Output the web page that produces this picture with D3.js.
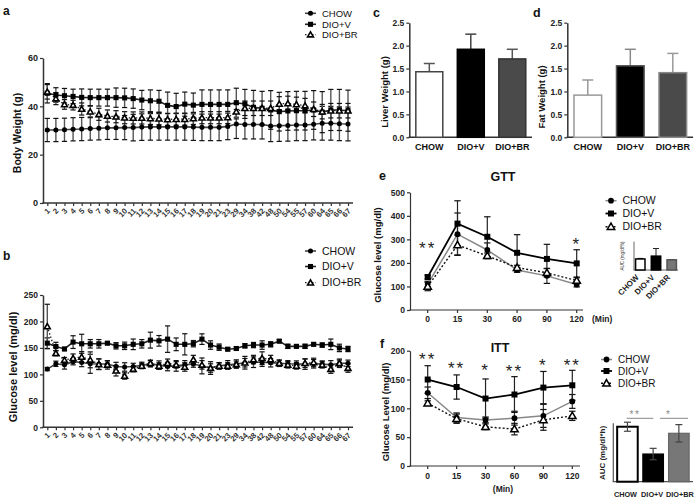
<!DOCTYPE html>
<html><head><meta charset="utf-8">
<script src="https://cdn.jsdelivr.net/npm/d3@7"></script>
<style>body{margin:0;background:#fff} svg{display:block}</style>
</head><body><svg id="c" width="700" height="499"></svg>
<script>
// ---------------- DATA ----------------
const weeks = ["1","2","3","4","5","6","7","8","9","10","11","12","13","14","15","16","17","18","19","20","21","23","29","34","38","42","48","50","54","55","57","60","64","65","66","67"];
const seriesNames = ["CHOW","DIO+V","DIO+BR"];
// a: body weight (g)
const bwChow = [30.2,30.2,30.3,30.5,30.6,30.8,30.9,31.1,31.1,31.2,31.2,31.4,31.5,31.5,31.5,31.5,31.5,31.4,31.3,31.3,31.3,31.7,32.7,32.5,32.5,32.5,31.9,32.0,32.1,32.3,32.3,32.6,33.0,33.0,32.8,32.7];
const bwChowErr = [4.8,4.8,4.8,4.8,4.8,4.8,4.8,4.8,4.8,5,5.5,5.5,5.5,5.5,5.5,5.5,5.5,5.5,5.5,5.5,5.5,5.5,6,6,6,6,6.5,6.5,6.5,6.5,6.5,6.5,7,7,7,7];
const bwDioV = [45.4,44.7,44.4,44.1,43.7,43.6,43.6,43.6,43.6,43.5,43.2,42.6,42.3,42.1,40.4,39.9,40.9,40.5,40.8,40.8,40.8,40.8,41.5,41.0,39.6,39.2,38.5,37.8,38.1,38.2,38.2,38.5,37.6,38.5,38.5,38.2];
const bwDioVErr = [4,3,3,3,3.5,3.5,3.5,3.5,4,4,4,4,4.5,4.5,5.5,5.5,5,5,6,6,6,6,6,6,7,7,8,8,8,8,8,8,8.5,8.5,8.5,8.5];
const bwDioBR = [46.0,43.2,40.8,40.5,38.9,37.8,36.7,36.0,35.7,35.3,35.2,35.2,35.0,34.9,34.6,34.7,34.7,35.0,35.3,35.3,35.3,35.4,37.8,39.2,39.2,39.2,39.2,41.0,41.2,40.8,40.3,38.8,37.8,38.2,38.2,38.2];
const bwDioBRErr = [3,2.5,2,2,2.5,2.5,2.5,2.5,2.5,2.5,2.5,2.5,2.5,2.5,2.5,2.5,2.5,2.5,2.5,2.5,2.5,2.5,3,3,3,3,3,3,3,3,3,3,3,3,3,3];
// b: glucose level (mg/dl)
const glChow = [110,120,118,124,122.6,120,119.5,119.5,114.8,114,115,117,120,117.5,114.8,116,118,119.5,116,112,116,118,119.5,122,123,123,122,121,120,119.5,119.5,120,119.5,118,121,121];
const glChowErr = [3,5,8,6,8,18,10,6,8,8,6,6,6,8,8,10,8,6,15,12,6,8,8,12,10,8,8,6,6,6,10,8,6,8,6,6];
const glDioV = [159,152.6,148,161,157.8,157.8,157.8,159,154,154,156.8,157.8,164.7,163.4,166.6,156.8,156.8,158,166.6,155.4,151.4,147.6,148.9,154,155.4,155.4,156.8,162.8,153,153,153,156.8,155.4,156.8,150,148];
const glDioVErr = [10,8,3,12,18,8,8,3,6,7,10,8,15,10,25,12,20,6,10,8,6,3,3,4,5,8,5,3,4,3,4,3,4,10,7,5];
const glDioBR = [190.5,140,127,130.6,133,127.5,119,118,107,97,110,116,121,116,121,118,114,128,118,112,116,116,119,122,128,130.6,128,121,118,116,121,122.6,118,110,121,112];
const glDioBRErr = [42,5,5,8,10,15,10,8,10,6,5,5,6,6,8,6,8,8,8,8,6,6,6,8,8,12,8,6,6,6,8,8,6,8,8,8];
// c, d: organ weights (g)
const liverWeight = [1.43,1.92,1.71];
const liverErr = [0.18,0.33,0.21];
const fatWeight = [0.92,1.56,1.41];
const fatErr = [0.33,0.36,0.42];
// e: GTT
const timePoints = ["0","15","30","60","90","120"];
const gttChow = [110,322,255,170,145,108];
const gttChowErr = [12,90,30,10,32,10];
const gttDioV = [140,367,311,243,217,198];
const gttDioVErr = [8,97,85,77,62,58];
const gttDioBR = [100,276,230,180,158,125];
const gttDioBRErr = [18,42,12,10,18,12];
const gttAuc = [39,49,36];
const gttAucErr = [2,27,1];
const gttSig = ["**","","","","","*"];
// f: ITT
const ittChow = [127,84,80,83,87,112];
const ittChowErr = [10,8,5,12,20,12];
const ittDioV = [150,137,117,124,136,140];
const ittDioVErr = [24,21,34,31,28,26];
const ittDioBR = [109,82,68,64,80,87];
const ittDioBRErr = [4,8,5,10,18,8];
const ittAuc = [75.3,37.9,66.3];
const ittAucErr = [6.2,7.8,11.9];
const ittSig = ["**","**","*","**","*","**"];

// ---------------- DRAWING ----------------
const FONT = "Arial, 'Liberation Sans', Helvetica, sans-serif";
const svg = d3.select("#c");

function txt(g, x, y, s, size, opt={}) {
  const t = g.append("text").attr("x",x).attr("y",y).text(s)
    .attr("font-family",FONT).attr("font-size",size)
    .attr("font-weight",opt.bold?"bold":"normal")
    .attr("fill",opt.fill||"#111")
    .attr("text-anchor",opt.anchor||"start");
  if (opt.ls!==undefined) t.attr("letter-spacing",opt.ls);
  if (opt.rotate!==undefined) t.attr("transform",`rotate(${opt.rotate},${x},${y})`);
  return t;
}
function mark(g, type, cx, cy, sizes) {
  const t = type==="circle"?d3.symbolCircle: type==="square"?d3.symbolSquare:d3.symbolTriangle;
  const p = g.append("path").attr("d", d3.symbol().type(t).size(sizes[type])())
    .attr("transform",`translate(${cx},${cy+(type==="tri"?0.6:0)})`);
  if (type==="tri") p.attr("fill","#fff").attr("stroke","#000").attr("stroke-width",sizes.triW||1.4);
  else p.attr("fill","#000");
}
function yAxis(g, y, x0, ticks, fmt, fs, sw) {
  const a = g.append("g").attr("transform",`translate(${x0},0)`)
    .call(d3.axisLeft(y).tickValues(ticks).tickSize(3).tickSizeOuter(0).tickPadding(2).tickFormat(fmt));
  a.select(".domain").attr("stroke","#333").attr("stroke-width",sw||1.5);
  a.selectAll(".tick line").attr("stroke","#333").attr("stroke-width",1.2);
  a.selectAll("text").attr("font-size",fs).attr("font-weight","bold").attr("fill","#222").attr("font-family",FONT);
  return a;
}
function xAxisLine(g, x1, x2, y0, sw) {
  g.append("line").attr("x1",x1).attr("x2",x2).attr("y1",y0).attr("y2",y0).attr("stroke","#333").attr("stroke-width",sw||1.5);
}
function series(g, x, y, cats, vals, errs, st) {
  cats.forEach((c,i)=>{
    const cx=x(c), lo=y(vals[i]-errs[i]), hi=y(vals[i]+errs[i]);
    g.append("line").attr("x1",cx).attr("x2",cx).attr("y1",lo).attr("y2",hi).attr("stroke",st.err).attr("stroke-width",st.errW);
    [lo,hi].forEach(yy=>g.append("line").attr("x1",cx-st.cap).attr("x2",cx+st.cap).attr("y1",yy).attr("y2",yy).attr("stroke",st.capC||"#111").attr("stroke-width",1.2));
  });
  g.append("path").datum(vals)
    .attr("d", d3.line().x((d,i)=>x(cats[i])).y(d=>y(d)))
    .attr("fill","none").attr("stroke",st.line).attr("stroke-width",st.lineW)
    .attr("stroke-dasharray",st.dash||null);
}
function markers(g, x, y, cats, vals, type, sizes) {
  cats.forEach((c,i)=>mark(g, type, x(c), y(vals[i]), sizes));
}
function legend(g, x0, ys, fs, styles, sizes) {
  seriesNames.forEach((n,i)=>{
    const st = styles[i];
    g.append("line").attr("x1",x0).attr("x2",x0+11).attr("y1",ys[i]).attr("y2",ys[i])
      .attr("stroke",st.line).attr("stroke-width",st.lineW).attr("stroke-dasharray",st.dash||null);
    mark(g, st.type, x0+5.5, ys[i], sizes);
    txt(g, x0+17, ys[i]+fs*0.36, n, fs);
  });
}

// ---------- Panel a ----------
const A = svg.append("g");
const smallSizes = {circle:20, square:26, tri:15, triW:1.6};
const abStyles = [
  {type:"circle", line:"#444", lineW:1.6, err:"#555", errW:1.4, cap:2.6},
  {type:"square", line:"#222", lineW:1.6, err:"#555", errW:1.4, cap:2.6},
  {type:"tri", line:"#222", lineW:1.3, dash:"1.5,2", err:"#555", errW:1.4, cap:2.6}
];
const xa = d3.scalePoint().domain(weeks).range([47.3,348]);
const ya = d3.scaleLinear().domain([0,60]).range([203,58]);
yAxis(A, ya, 43, [0,20,40,60], d3.format("d"), 9);
xAxisLine(A, 42.3, 353, 203);
function weekAxis(g, x, y0) {
  const ax = g.append("g").attr("transform",`translate(0,${y0})`)
    .call(d3.axisBottom(x).tickSize(3).tickSizeOuter(0));
  ax.select(".domain").remove();
  ax.selectAll(".tick line").attr("stroke","#333").attr("stroke-width",1.2);
  ax.selectAll("text").attr("x",0).attr("y",0).attr("dy",0)
    .attr("transform","translate(2.8,8.5) rotate(-45)").attr("text-anchor","end")
    .attr("font-size",7.8).attr("font-weight","bold").attr("fill","#333").attr("font-family",FONT);
}
weekAxis(A, xa, 203);
[[bwChow,bwChowErr],[bwDioV,bwDioVErr],[bwDioBR,bwDioBRErr]].forEach((d,i)=>series(A, xa, ya, weeks, d[0], d[1], abStyles[i]));
[bwChow,bwDioV,bwDioBR].forEach((d,i)=>markers(A, xa, ya, weeks, d, abStyles[i].type, smallSizes));
txt(A, 21, 133, "Body Weight  (g)", 10.5, {bold:true, anchor:"middle", rotate:-90});
txt(A, 3, 15, "a", 12, {bold:true});
legend(A, 305, [13.3,24.3,34.6], 9.5, abStyles, smallSizes);

// ---------- Panel b ----------
const B = svg.append("g");
const yb = d3.scaleLinear().domain([0,250]).range([427.3,295]);
yAxis(B, yb, 43, [0,50,100,150,200,250], d3.format("d"), 8.5);
xAxisLine(B, 42.3, 353, 427.3);
weekAxis(B, xa, 427.3);
[[glChow,glChowErr],[glDioV,glDioVErr],[glDioBR,glDioBRErr]].forEach((d,i)=>series(B, xa, yb, weeks, d[0], d[1], abStyles[i]));
[glChow,glDioV,glDioBR].forEach((d,i)=>markers(B, xa, yb, weeks, d, abStyles[i].type, smallSizes));
txt(B, 17, 367, "Glucose level  (mg/dl)", 11, {bold:true, anchor:"middle", rotate:-90});
txt(B, 3, 260, "b", 12, {bold:true});
legend(B, 305, [251,266.5,282.7], 10.5, abStyles, smallSizes);

// ---------- Panels c, d ----------
function barPanel(g, x0, x1, vals, errs, fills, strokes, errCols, label, labelX, labelY, letter, letterX) {
  const x = d3.scaleBand().domain(seriesNames).range([x0+0.3,x1]).paddingInner(0.35).paddingOuter(0.15);
  const y = d3.scaleLinear().domain([0,2.5]).range([137.3,22.7]);
  yAxis(g, y, x0, [0,0.5,1,1.5,2,2.5], d3.format(".1f"), 8.5);
  xAxisLine(g, x0-0.7, x1, 137.3);
  seriesNames.forEach((c,i)=>{
    const bx=x(c), bw=x.bandwidth(), top=y(vals[i]), cx=bx+bw/2, et=y(vals[i]+errs[i]);
    g.append("line").attr("x1",cx).attr("x2",cx).attr("y1",top).attr("y2",et).attr("stroke",errCols[i]).attr("stroke-width",1.5);
    g.append("line").attr("x1",cx-5.5).attr("x2",cx+5.5).attr("y1",et).attr("y2",et).attr("stroke",errCols[i]).attr("stroke-width",1.5);
    g.append("rect").attr("x",bx).attr("y",top).attr("width",bw).attr("height",y(0)-top)
      .attr("fill",fills[i]).attr("stroke",strokes[i]).attr("stroke-width",1.5);
    txt(g, cx, 150, c, 9, {bold:true, anchor:"middle"});
  });
  txt(g, labelX, labelY, label, 9.5, {bold:true, anchor:"middle", rotate:-90});
  txt(g, letterX, 17, letter, 12.5, {bold:true});
}
const C = svg.append("g");
barPanel(C, 409.3, 532, liverWeight, liverErr, ["#fff","#000","#4a4a4a"], ["#444","#000","#333"], ["#555","#444","#555"], "Liver Weight  (g)", 388, 92, "c", 373);
const D = svg.append("g");
barPanel(D, 567.3, 693, fatWeight, fatErr, ["#fff","#000","#4a4a4a"], ["#999","#555","#888"], ["#999","#888","#999"], "Fat Weight  (g)", 545, 97, "d", 533);

// ---------- Panels e, f ----------
const efStyles = [
  {type:"circle", line:"#888", lineW:1.5, err:"#333", errW:1.2, cap:3.2},
  {type:"square", line:"#000", lineW:1.8, err:"#222", errW:1.2, cap:3.2},
  {type:"tri", line:"#111", lineW:1.4, dash:"2,2", err:"#333", errW:1.2, cap:3.2}
];
const bigSizes = {circle:26, square:36, tri:24, triW:1.5};
function sig(g, x, labels, ys, fs) {
  timePoints.forEach((t,i)=>{ if(labels[i]) txt(g, x(t), ys[i], labels[i], fs, {anchor:"middle", fill:"#222", ls:2}); });
}

// e
const E = svg.append("g");
const xe = d3.scalePoint().domain(timePoints).range([427.7,576.7]);
const ye = d3.scaleLinear().domain([0,500]).range([310,192.3]);
yAxis(E, ye, 410, [0,100,200,300,400,500], d3.format("d"), 8.5, 1.2);
xAxisLine(E, 409.4, 583, 310, 1.2);
timePoints.forEach(t=>{
  E.append("line").attr("x1",xe(t)).attr("x2",xe(t)).attr("y1",310).attr("y2",313).attr("stroke","#333").attr("stroke-width",1.2);
  txt(E, xe(t), 322, t, 8.5, {bold:true, anchor:"middle", fill:"#222"});
});
txt(E, 592, 322, "(Min)", 8.5, {bold:true, fill:"#222"});
[[gttChow,gttChowErr],[gttDioV,gttDioVErr],[gttDioBR,gttDioBRErr]].forEach((d,i)=>series(E, xe, ye, timePoints, d[0], d[1], efStyles[i]));
[gttChow,gttDioV,gttDioBR].forEach((d,i)=>markers(E, xe, ye, timePoints, d, efStyles[i].type, bigSizes));
sig(E, xe, gttSig, [254,0,0,0,0,250], 17);
txt(E, 503, 181, "GTT", 12.5, {bold:true, anchor:"middle"});
txt(E, 379, 180, "e", 12.5, {bold:true});
txt(E, 381, 255, "Glucose level  (mg/dl)", 9.5, {bold:true, anchor:"middle", rotate:-90});
legend(E, 605.5, [200.7,213.5,226.7], 10.5, efStyles, bigSizes);
// mini AUC
const xm = d3.scaleBand().domain(seriesNames).range([634,678]).paddingInner(0.4).paddingOuter(0.1);
const ym = d3.scaleLinear().domain([0,100]).range([270,241.7]);
E.append("line").attr("x1",634).attr("x2",634).attr("y1",241.7).attr("y2",270).attr("stroke","#666").attr("stroke-width",1);
E.append("line").attr("x1",633.5).attr("x2",678).attr("y1",270).attr("y2",270).attr("stroke","#666").attr("stroke-width",1);
const miniFill = ["#fff","#000","#777"], miniStroke = ["#000","#000","#555"];
seriesNames.forEach((c,i)=>{
  const bx=xm(c), bw=xm.bandwidth(), top=ym(gttAuc[i]), cx=bx+bw/2, et=ym(gttAuc[i]+gttAucErr[i]);
  E.append("line").attr("x1",cx).attr("x2",cx).attr("y1",top).attr("y2",et).attr("stroke","#222").attr("stroke-width",1);
  E.append("line").attr("x1",cx-3).attr("x2",cx+3).attr("y1",et).attr("y2",et).attr("stroke","#222").attr("stroke-width",1);
  E.append("rect").attr("x",bx).attr("y",top).attr("width",bw).attr("height",ym(0)-top).attr("fill",miniFill[i]).attr("stroke",miniStroke[i]).attr("stroke-width",1.5);
  txt(E, cx-1, 278, c, 8, {bold:true, anchor:"end", rotate:-45, fill:"#222"});
});
txt(E, 624, 256, "AUC (mg/dl*h)", 4.5, {anchor:"middle", rotate:-90, fill:"#333"});

// f
const F = svg.append("g");
const xf = d3.scalePoint().domain(timePoints).range([427.7,572.3]);
const yf = d3.scaleLinear().domain([0,200]).range([466,350.7]);
yAxis(F, yf, 410, [0,50,100,150,200], d3.format("d"), 8.5, 1.2);
xAxisLine(F, 409.4, 580, 466, 1.2);
timePoints.forEach(t=>{
  F.append("line").attr("x1",xf(t)).attr("x2",xf(t)).attr("y1",466).attr("y2",469).attr("stroke","#333").attr("stroke-width",1.2);
  txt(F, xf(t), 478.5, t, 8.5, {bold:true, anchor:"middle", fill:"#222"});
});
txt(F, 503, 492, "(Min)", 8.5, {bold:true, anchor:"middle", fill:"#222"});
[[ittChow,ittChowErr],[ittDioV,ittDioVErr],[ittDioBR,ittDioBRErr]].forEach((d,i)=>series(F, xf, yf, timePoints, d[0], d[1], efStyles[i]));
[ittChow,ittDioV,ittDioBR].forEach((d,i)=>markers(F, xf, yf, timePoints, d, efStyles[i].type, bigSizes));
sig(F, xf, ittSig, [365,374,376,377,371,371], 17);
txt(F, 500, 352, "ITT", 12.5, {bold:true, anchor:"middle"});
txt(F, 380, 348, "f", 12.5, {bold:true});
txt(F, 389, 412, "Glucose Level (mg/dl)", 9.5, {bold:true, anchor:"middle", rotate:-90});
legend(F, 601, [359.5,371,383.3], 10, efStyles, bigSizes);
// AUC
const xa2 = d3.scaleBand().domain(seriesNames).range([613.3,693]).paddingInner(0.2).paddingOuter(0.15);
const ya2 = d3.scaleLinear().domain([0,80]).range([481.7,423.3]);
F.append("line").attr("x1",613.3).attr("x2",613.3).attr("y1",423.3).attr("y2",481.7).attr("stroke","#555").attr("stroke-width",1.2);
F.append("line").attr("x1",612.7).attr("x2",693).attr("y1",481.7).attr("y2",481.7).attr("stroke","#555").attr("stroke-width",1.2);
const aucFill = ["#fff","#000","#777"], aucStroke = ["#000","#000","#666"];
const aucLabelDx = [-2,-1,1];
seriesNames.forEach((c,i)=>{
  const bx=xa2(c), bw=xa2.bandwidth(), top=ya2(ittAuc[i]), cx=bx+bw/2;
  const hi=ya2(ittAuc[i]+ittAucErr[i]), lo=ya2(ittAuc[i]-ittAucErr[i]);
  F.append("rect").attr("x",bx).attr("y",top).attr("width",bw).attr("height",ya2(0)-top).attr("fill",aucFill[i]).attr("stroke",aucStroke[i]).attr("stroke-width",i===0?2:1.2);
  F.append("line").attr("x1",cx).attr("x2",cx).attr("y1",lo).attr("y2",hi).attr("stroke","#444").attr("stroke-width",1.2);
  [lo,hi].forEach(yy=>F.append("line").attr("x1",cx-3.5).attr("x2",cx+3.5).attr("y1",yy).attr("y2",yy).attr("stroke","#444").attr("stroke-width",1.2));
  txt(F, cx+aucLabelDx[i], 497, c, 7.3, {bold:true, anchor:"middle", fill:"#222"});
});
F.append("line").attr("x1",626.7).attr("x2",653.3).attr("y1",418.3).attr("y2",418.3).attr("stroke","#888").attr("stroke-width",1);
F.append("line").attr("x1",660).attr("x2",688).attr("y1",418.3).attr("y2",418.3).attr("stroke","#888").attr("stroke-width",1);
txt(F, 635, 418, "**", 10, {anchor:"middle", fill:"#888", ls:1.5});
txt(F, 668, 418, "*", 10, {anchor:"middle", fill:"#888"});
txt(F, 605, 453, "AUC (mg/dl*h)", 8, {bold:true, anchor:"middle", rotate:-90, fill:"#222"});
</script></body></html>
